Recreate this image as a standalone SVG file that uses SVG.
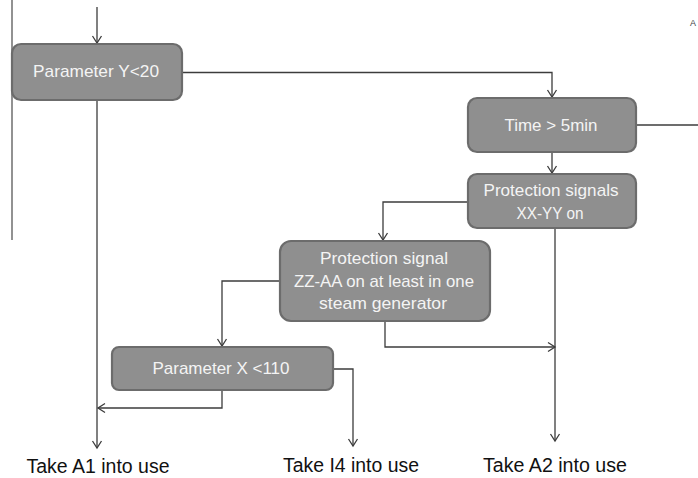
<svg xmlns="http://www.w3.org/2000/svg" width="698" height="478" viewBox="0 0 698 478">
  <style>
    .box { fill: #8f8f8f; stroke: #6c6c6c; stroke-width: 2.2; }
    .lbl { font-family: "Liberation Sans", Arial, sans-serif; font-size: 17px; fill: #f4f4f4; text-anchor: middle; }
    .out { font-family: "Liberation Sans", Arial, sans-serif; font-size: 20px; fill: #111; text-anchor: middle; }
    .wire { fill: none; stroke: #3c3c3c; stroke-width: 1.3; }
  </style>
  <defs>
    <marker id="arr" markerUnits="userSpaceOnUse" markerWidth="12" markerHeight="12" viewBox="-8 -6 10 12" refX="0" refY="0" orient="auto">
      <path d="M-7,-4.5 L0,0 L-7,4.5" fill="none" stroke="#3c3c3c" stroke-width="1.3"/>
    </marker>
  </defs>

  <rect width="698" height="478" fill="#ffffff"/>

  <!-- side rule on the left edge -->
  <line x1="12" y1="0" x2="12" y2="240" stroke="#777777" stroke-width="1.6"/>
  <!-- small glyph at the top-right edge -->
  <text x="690" y="26" font-family="Liberation Sans, Arial, sans-serif" font-size="9" fill="#444">A</text>

  <g id="connectors">
    <line class="wire" x1="97" y1="7" x2="97" y2="43" marker-end="url(#arr)"/>
    <polyline class="wire" points="182,72.5 552,72.5 552,97" marker-end="url(#arr)"/>
    <line class="wire" x1="636" y1="125" x2="698" y2="125"/>
    <line class="wire" x1="552" y1="152" x2="552" y2="173" marker-end="url(#arr)"/>
    <polyline class="wire" points="468,202 383,202 383,240" marker-end="url(#arr)"/>
    <line class="wire" x1="555" y1="228" x2="555" y2="441" marker-end="url(#arr)"/>
    <polyline class="wire" points="280,281 222,281 222,346" marker-end="url(#arr)"/>
    <polyline class="wire" points="385,321 385,347 555,347" marker-end="url(#arr)"/>
    <line class="wire" x1="97" y1="100" x2="97" y2="448" marker-end="url(#arr)"/>
    <polyline class="wire" points="222,390 222,408 98,408" marker-end="url(#arr)"/>
    <polyline class="wire" points="333,369 353,369 353,446" marker-end="url(#arr)"/>
  </g>

  <g id="param-y">
    <rect class="box" x="12" y="44" width="170" height="56" rx="9"/>
    <text class="lbl" x="96" y="77" textLength="126" lengthAdjust="spacingAndGlyphs">Parameter  Y&lt;20</text>
  </g>

  <g id="time-5min">
    <rect class="box" x="468" y="98" width="168" height="54" rx="9"/>
    <text class="lbl" x="551" y="131" textLength="93" lengthAdjust="spacingAndGlyphs">Time &gt; 5min</text>
  </g>

  <g id="signals-xx-yy">
    <rect class="box" x="468" y="174" width="168" height="54" rx="9"/>
    <text class="lbl" x="551" y="196" textLength="135" lengthAdjust="spacingAndGlyphs">Protection signals</text>
    <text class="lbl" x="550" y="219" textLength="67" lengthAdjust="spacingAndGlyphs">XX-YY on</text>
  </g>

  <g id="signal-zz-aa">
    <rect class="box" x="280" y="241" width="210" height="80" rx="11"/>
    <text class="lbl" x="384" y="264" textLength="128" lengthAdjust="spacingAndGlyphs">Protection signal</text>
    <text class="lbl" x="384" y="287" textLength="180" lengthAdjust="spacingAndGlyphs">ZZ-AA on at least in one</text>
    <text class="lbl" x="383" y="309" textLength="128" lengthAdjust="spacingAndGlyphs">steam generator</text>
  </g>

  <g id="param-x">
    <rect class="box" x="112" y="347" width="221" height="43" rx="7"/>
    <text class="lbl" x="221" y="374" textLength="137" lengthAdjust="spacingAndGlyphs">Parameter X &lt;110</text>
  </g>

  <g id="outcomes">
    <text class="out" x="98" y="473" textLength="143" lengthAdjust="spacingAndGlyphs">Take A1 into use</text>
    <text class="out" x="351" y="472" textLength="136" lengthAdjust="spacingAndGlyphs">Take I4 into use</text>
    <text class="out" x="555" y="472" textLength="144" lengthAdjust="spacingAndGlyphs">Take A2 into use</text>
  </g>
</svg>
